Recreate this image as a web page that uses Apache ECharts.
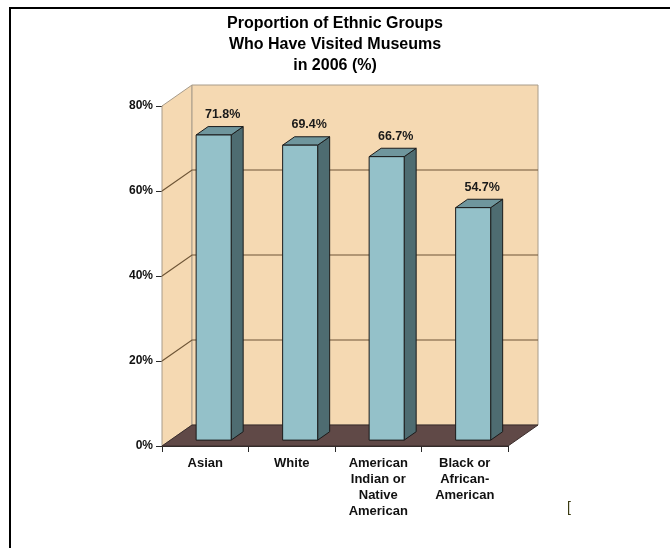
<!DOCTYPE html>
<html>
<head>
<meta charset="utf-8">
<script src="https://cdn.jsdelivr.net/npm/echarts@6/dist/echarts.min.js"></script>
<style>
  html, body { margin: 0; padding: 0; background: #ffffff; }
  #chart { width: 670px; height: 548px; }
</style>
</head>
<body>
<div id="chart"></div>
<script>
// Data
const categories = ['Asian', 'White', 'American\nIndian or\nNative\nAmerican', 'Black or\nAfrican-\nAmerican'];
const visitedPct = [71.8, 69.4, 66.7, 54.7];
const yTicks = [0, 20, 40, 60, 80];
const titleLines = ['Proportion of Ethnic Groups', 'Who Have Visited Museums', 'in 2006 (%)'];

// Look of the pseudo-3D box and columns
const FONT = '"Liberation Sans", Arial, Helvetica, sans-serif';
const DEPTH = [30, -21];          // pixel offset from front plane to back wall
const BAR_FRONT = 0.28;           // column front face, as a fraction of the depth
const BAR_BACK = 0.68;            // column back face
const WALL = '#F5D9B2';
const WALL_EDGE = '#A89C8A';
const FLOOR = '#604947';
const GRID = '#6E5536';
const BAR_FACE = '#94C1C9';
const BAR_SIDE = '#4E6C71';
const BAR_TOP = '#6F969D';
const BAR_EDGE = '#1b1b1b';

const chart = echarts.init(document.getElementById('chart'), null, { renderer: 'canvas' });

function renderWalls(params, api) {
  const cs = params.coordSys;
  const x0 = cs.x, x1 = cs.x + cs.width;
  const yt = cs.y, yb = cs.y + cs.height;
  const dx = DEPTH[0], dy = DEPTH[1];
  const children = [];
  // left side wall
  children.push({
    type: 'polygon',
    shape: { points: [[x0, yb], [x0, yt], [x0 + dx, yt + dy], [x0 + dx, yb + dy]] },
    style: { fill: WALL, stroke: WALL_EDGE, lineWidth: 1 }
  });
  // back wall
  children.push({
    type: 'rect',
    shape: { x: x0 + dx, y: yt + dy, width: cs.width, height: cs.height },
    style: { fill: WALL, stroke: WALL_EDGE, lineWidth: 1 }
  });
  // floor
  children.push({
    type: 'polygon',
    shape: { points: [[x0, yb], [x1, yb], [x1 + dx, yb + dy], [x0 + dx, yb + dy]] },
    style: { fill: FLOOR, stroke: '#3a2c2a', lineWidth: 1 }
  });
  // gridlines running along the side wall and across the back wall
  yTicks.slice(1, -1).forEach(function (v) {
    const y = api.coord([0, v])[1];
    children.push({
      type: 'polyline',
      shape: { points: [[x0, y], [x0 + dx, y + dy], [x1 + dx, y + dy]] },
      style: { stroke: GRID, lineWidth: 1.2, fill: null }
    });
  });
  return { type: 'group', children: children };
}

function renderBar(params, api) {
  const i = api.value(0), v = api.value(1);
  const base = api.coord([i, 0]);
  const top = api.coord([i, v]);
  const w = api.size([1, 0])[0] * 0.405;
  const dx = DEPTH[0], dy = DEPTH[1];
  const fx = dx * BAR_FRONT, fy = dy * BAR_FRONT;
  const bx = dx * (BAR_BACK - BAR_FRONT), by = dy * (BAR_BACK - BAR_FRONT);
  const L = base[0] - w / 2 + fx, R = base[0] + w / 2 + fx;
  const B = base[1] + fy, T = top[1] + fy;
  return {
    type: 'group',
    children: [
      {
        type: 'polygon',
        shape: { points: [[R, B], [R, T], [R + bx, T + by], [R + bx, B + by]] },
        style: { fill: BAR_SIDE, stroke: BAR_EDGE, lineWidth: 1 }
      },
      {
        type: 'polygon',
        shape: { points: [[L, T], [R, T], [R + bx, T + by], [L + bx, T + by]] },
        style: { fill: BAR_TOP, stroke: BAR_EDGE, lineWidth: 1 }
      },
      {
        type: 'rect',
        shape: { x: L, y: T, width: R - L, height: B - T },
        style: { fill: BAR_FACE, stroke: BAR_EDGE, lineWidth: 1 }
      },
      {
        type: 'text',
        style: {
          x: (L + R) / 2 + bx * 0.75,
          y: T + by - 12,
          text: v.toFixed(1) + '%',
          fill: '#1a1a1a',
          font: 'bold 12.5px ' + FONT,
          align: 'center',
          verticalAlign: 'middle'
        }
      }
    ]
  };
}

chart.setOption({
  animation: false,
  backgroundColor: '#ffffff',
  title: {
    text: titleLines.join('\n'),
    left: 'center',
    top: 8,
    textStyle: {
      fontFamily: FONT,
      fontSize: 16,
      fontWeight: 'bold',
      color: '#000000',
      lineHeight: 21
    }
  },
  grid: { left: 162, right: 162, top: 106, bottom: 102 },
  xAxis: {
    type: 'category',
    data: categories,
    boundaryGap: true,
    axisLine: { show: true, lineStyle: { color: '#2a2a2a', width: 1 } },
    axisTick: { show: true, alignWithLabel: false, length: 6, lineStyle: { color: '#2a2a2a' } },
    axisLabel: {
      interval: 0,
      margin: 9,
      fontFamily: FONT,
      fontSize: 13,
      fontWeight: 'bold',
      color: '#111111',
      lineHeight: 16,
      align: 'center'
    },
    splitLine: { show: false }
  },
  yAxis: {
    type: 'value',
    min: 0,
    max: 80,
    interval: 20,
    axisLine: { show: true, lineStyle: { color: '#2a2a2a', width: 1 } },
    axisTick: { show: true, length: 6, lineStyle: { color: '#2a2a2a' } },
    axisLabel: {
      formatter: '{value}%',
      margin: 9,
      fontFamily: FONT,
      fontSize: 12,
      fontWeight: 'bold',
      color: '#111111'
    },
    splitLine: { show: false }
  },
  series: [
    {
      type: 'custom',
      name: 'walls',
      silent: true,
      z: 1,
      renderItem: renderWalls,
      data: [[0, 0]]
    },
    {
      type: 'custom',
      name: 'Visited museums',
      silent: true,
      z: 2,
      renderItem: renderBar,
      encode: { x: 0, y: 1 },
      data: visitedPct.map(function (v, i) { return [i, v]; })
    }
  ],
  graphic: [
    {
      type: 'polyline',
      silent: true,
      shape: { points: [[10, 548], [10, 8], [670, 8]] },
      style: { stroke: '#000000', lineWidth: 2, fill: null }
    },
    {
      type: 'text',
      silent: true,
      left: 567,
      top: 501,
      style: { text: '[', font: '14px ' + FONT, fill: '#3a3a12' }
    }
  ]
});
</script>
</body>
</html>
